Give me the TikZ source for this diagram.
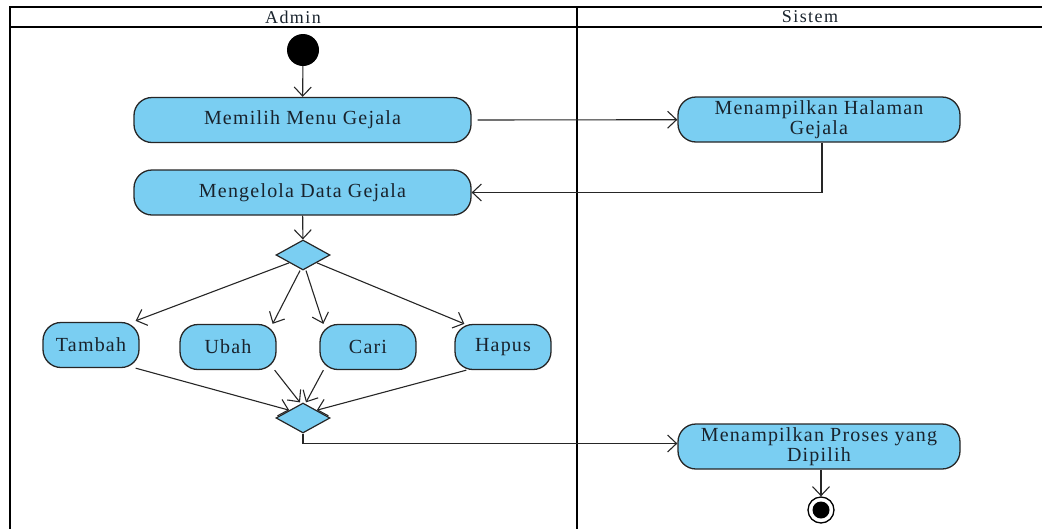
\documentclass[tikz,border=0pt]{standalone}
\usepackage{fontspec}
\setmainfont{Liberation Serif}
\usetikzlibrary{shapes.geometric,arrows.meta,calc}
\definecolor{actfill}{RGB}{122,206,242}
\definecolor{txt}{RGB}{25,35,45}
\tikzset{
  act/.style={draw=black!85, line width=1.3pt, fill=actfill, rounded corners=18pt, minimum height=45pt, align=center, font=\fontsize{20}{19.5}\selectfont\addfontfeatures{LetterSpace=6}, text=txt, inner sep=2pt},
  dec/.style={diamond, draw=black!85, line width=1.2pt, fill=actfill, minimum width=54pt, minimum height=30pt, inner sep=0pt},
  flow/.style={draw=black!85, line width=1.1pt, -{Straight Barb[length=9pt,width=17pt,line width=1.1pt]}},
  lane/.style={draw=black, line width=2.6pt},
  hdr/.style={font=\fontsize{18}{18}\selectfont\addfontfeatures{LetterSpace=8}, text=txt}
}
\begin{document}
\begin{tikzpicture}[x=1pt,y=-1pt]
\useasboundingbox (0,0) rectangle (1042,528);
% swimlanes
\draw[lane] (1050,7) -- (10,7) -- (10,535);
\draw[lane] (10,27) -- (1050,27);
\draw[lane] (577,7) -- (577,535);
\node[hdr] (hadmin) at (293,17) {Admin};
\node[hdr] (hsistem) at (810,17) {Sistem};
% nodes
\node[circle, fill=black, minimum size=32pt, inner sep=0] (start) at (303,50) {};
\node[act, minimum width=337pt] (memilih) at (302.5,120) {Memilih Menu Gejala};
\node[act, minimum width=337pt] (kelola) at (302.5,192.5) {Mengelola Data Gejala};
\node[act, minimum width=282pt] (halaman) at (819,119.5) {Menampilkan Halaman\\Gejala};
\node[dec] (d1) at (303,255) {};
\node[act, minimum width=96pt] (tambah) at (91,345) {Tambah};
\node[act, minimum width=96pt] (ubah) at (228,347) {Ubah};
\node[act, minimum width=96pt] (cari) at (368,347) {Cari};
\node[act, minimum width=96pt] (hapus) at (503,347) {Hapus};
\node[dec] (d2) at (303,418) {};
\node[act, minimum width=282pt] (proses) at (819,446.5) {Menampilkan Proses yang\\Dipilih};
\node[circle, draw=black, line width=1.3pt, fill=white, minimum size=26pt, inner sep=0] (final) at (821,510) {};
\node[circle, fill=black, minimum size=17pt, inner sep=0] (finalin) at (821,510) {};
% connectors
\draw[flow] (start) -- (memilih);
\draw[flow] ([xshift=6pt]memilih.east) -- (halaman);
\draw[flow] ([xshift=3pt]halaman.south) |- (kelola.east);
\draw[flow] (kelola) -- (d1);
\draw[flow] (d1.south west) -- ([xshift=-4pt,yshift=1pt]tambah.north east);
\draw[flow] ([xshift=-3pt]d1.south) -- ([xshift=-4pt]ubah.north east);
\draw[flow] ([xshift=3pt]d1.south) -- ([xshift=4pt]cari.north west);
\draw[flow] (d1.south east) -- ([xshift=10pt]hapus.north west);
\draw[flow] ([xshift=-4pt]tambah.south east) -- (d2.north west);
\draw[flow] ([xshift=-2pt]ubah.south east) -- ([xshift=-3pt]d2.north);
\draw[flow] ([xshift=4pt]cari.south west) -- ([xshift=3pt]d2.north);
\draw[flow] ([xshift=12pt]hapus.south west) -- (d2.north east);
\draw[flow] (d2.south) |- ([yshift=3pt]proses.west);
\draw[flow] ([xshift=2pt]proses.south) -- (final);
\end{tikzpicture}
\end{document}
